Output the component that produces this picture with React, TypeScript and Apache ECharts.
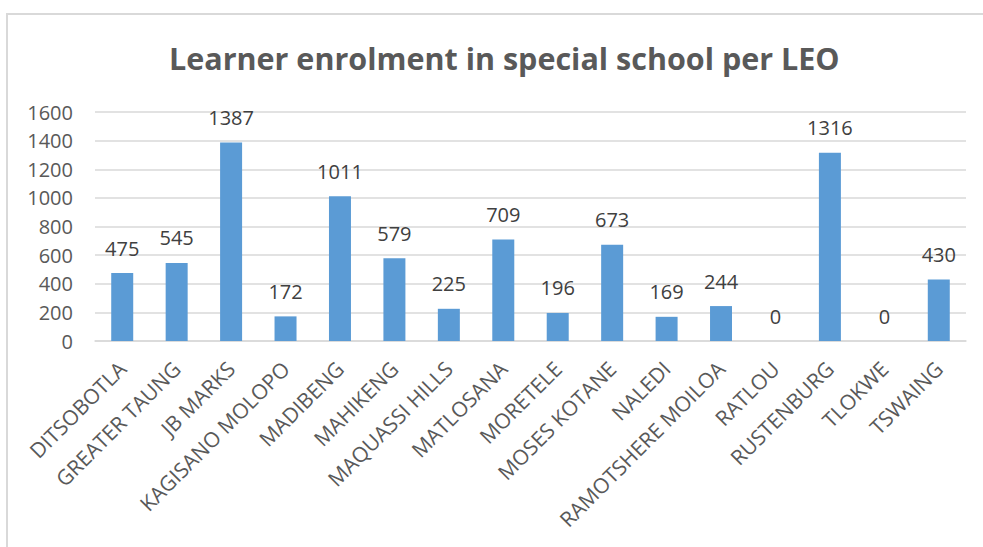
import React, { useEffect, useRef } from "react";
import * as echarts from "echarts";

const titleText = "Learner enrolment in special school per LEO";
const categories = [
  "DITSOBOTLA",
  "GREATER TAUNG",
  "JB MARKS",
  "KAGISANO MOLOPO",
  "MADIBENG",
  "MAHIKENG",
  "MAQUASSI HILLS",
  "MATLOSANA",
  "MORETELE",
  "MOSES KOTANE",
  "NALEDI",
  "RAMOTSHERE MOILOA",
  "RATLOU",
  "RUSTENBURG",
  "TLOKWE",
  "TSWAING",
];
const enrolment = [475, 545, 1387, 172, 1011, 579, 225, 709, 196, 673, 169, 244, 0, 1316, 0, 430];
const yMin = 0;
const yMax = 1600;
const yInterval = 200;

const FONT = "'Open Sans', 'Noto Sans', sans-serif";

export default function App() {
  const ref = useRef<HTMLDivElement>(null);
  useEffect(() => {
    if (!ref.current) return;
    const chart = echarts.init(ref.current, undefined, { renderer: "svg" });
    chart.setOption({
      animation: false,
      backgroundColor: "#ffffff",
      title: {
        text: titleText,
        left: 164,
        top: 37,
        textStyle: { fontFamily: FONT, fontSize: 30.5, fontWeight: "bold", color: "#595959" },
      },
      graphic: [
        { type: "line", shape: { x1: 6, y1: 14, x2: 983, y2: 14 }, style: { stroke: "#D9D9D9", lineWidth: 2 } },
        { type: "line", shape: { x1: 7, y1: 13, x2: 7, y2: 547 }, style: { stroke: "#D9D9D9", lineWidth: 2 } },
      ],
      grid: { left: 95, right: 17, top: 112, bottom: 206, containLabel: false },
      xAxis: {
        type: "category",
        data: categories,
        axisLine: { lineStyle: { color: "#D9D9D9", width: 1.5 } },
        axisTick: { show: false },
        axisLabel: {
          interval: 0,
          rotate: 45,
          margin: 24,
          fontFamily: FONT,
          fontSize: 21,
          color: "#595959",
        },
      },
      yAxis: {
        type: "value",
        min: yMin,
        max: yMax,
        interval: yInterval,
        axisLine: { show: false },
        axisTick: { show: false },
        splitLine: { lineStyle: { color: "#D9D9D9", width: 1.5 } },
        axisLabel: {
          margin: 22,
          fontFamily: FONT,
          fontSize: 20,
          color: "#595959",
          formatter: (v: number) => String(v),
        },
      },
      series: [
        {
          type: "bar",
          data: enrolment,
          barWidth: 22,
          itemStyle: { color: "#5B9BD5" },
          label: {
            show: true,
            position: "top",
            distance: 15,
            fontFamily: FONT,
            fontSize: 20,
            color: "#404040",
          },
        },
      ],
    });
    return () => chart.dispose();
  }, []);
  return (
    <div
      ref={ref}
      style={{ position: "fixed", left: 0, top: 0, width: 983, height: 547 }}
    />
  );
}
